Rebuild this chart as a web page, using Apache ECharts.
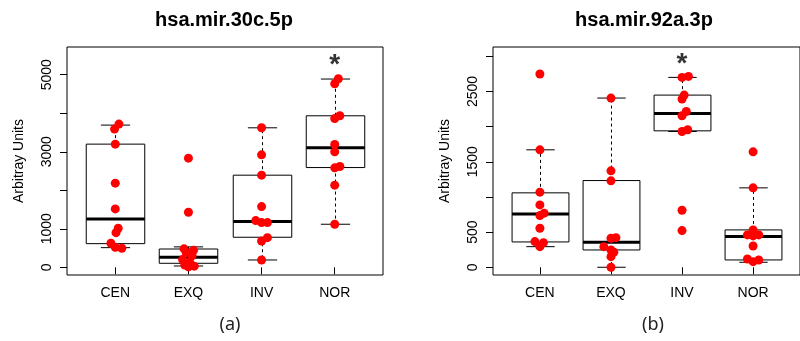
<!DOCTYPE html>
<html>
<head>
<meta charset="utf-8">
<script src="https://cdn.jsdelivr.net/npm/echarts@6/dist/echarts.min.js"></script>
<style>
  html, body { margin: 0; background: #fff; }
  #chart { width: 800px; height: 341px; }
</style>
</head>
<body>
<div id="chart"></div>
<script>
const categories = ['CEN', 'EXQ', 'INV', 'NOR'];

// panel (a) hsa.mir.30c.5p : [low whisker, Q1, median, Q3, high whisker]
const boxA = [
  [510, 614, 1256, 3198, 3692],
  [34, 104, 260, 475, 530],
  [190, 780, 1186, 2392, 3622],
  [1118, 2590, 3102, 3934, 4888]
];
const pointsA = [
  [3718, 3588, 3198, 2184, 1516, 1014, 900, 624, 520, 494],
  [2834, 1430, 480, 440, 380, 300, 200, 120, 60, 30, 10],
  [3622, 2920, 2392, 1576, 1212, 1160, 1160, 770, 684, 190],
  [4896, 4766, 3934, 3864, 3188, 2998, 2616, 2582, 2132, 1118]
];
const jitterA = [
  [0.05, -0.01, 0, 0, 0, 0.04, 0.01, -0.06, 0, 0.09],
  [0, 0, -0.06, 0.07, -0.03, 0.05, -0.08, 0.02, -0.05, 0.08, 0],
  [0, 0, 0, 0, -0.08, 0, 0.08, 0.08, 0, 0],
  [0.05, 0, 0.07, 0, 0, 0, 0.07, 0, 0, 0]
];
const starA = [4, 5250];

// panel (b) hsa.mir.92a.3p
const boxB = [
  [293, 360, 759, 1058, 1670],
  [0, 246, 356, 1233, 2406],
  [1931, 1940, 2187, 2448, 2700],
  [71, 104, 436, 531, 1129]
];
const pointsB = [
  [2748, 1670, 1068, 887, 769, 735, 555, 365, 350, 293],
  [2406, 1371, 1229, 421, 413, 293, 246, 213, 151, 0],
  [2714, 2700, 2448, 2392, 2215, 2154, 1955, 1931, 811, 521],
  [1641, 1129, 531, 460, 446, 460, 303, 118, 80, 104]
];
const jitterB = [
  [0, 0, 0, 0, 0.06, 0, 0, -0.07, 0.05, 0],
  [0, 0, 0, 0.07, 0, -0.1, 0, 0.04, 0, 0],
  [0.09, 0, 0.03, 0, 0.06, 0, 0.08, 0, 0, 0],
  [0, 0, 0, -0.08, 0, 0.08, 0, -0.08, 0, 0.08]
];
const starB = [3, 2880];

const ticksA = [0, 1000, 2000, 3000, 4000, 5000];
const labelsA = [0, 1000, 3000, 5000];
const ticksB = [0, 500, 1000, 1500, 2000, 2500, 3000];
const labelsB = [0, 500, 1500, 2500];

const FONT = "'Liberation Sans', Arial, sans-serif";

function renderBox(params, api) {
  const x = api.value(0);
  const lo = api.coord([x, api.value(1)]);
  const q1 = api.coord([x, api.value(2)]);
  const md = api.coord([x, api.value(3)]);
  const q3 = api.coord([x, api.value(4)]);
  const hi = api.coord([x, api.value(5)]);
  const bw = api.size([0.8, 0])[0];
  const cw = api.size([0.4, 0])[0];
  const cx = Math.round(lo[0]) + 0.5;
  const solid = { stroke: '#000', lineWidth: 1, fill: null };
  const dashed = { stroke: '#000', lineWidth: 1, lineDash: [3, 3], fill: null };
  return {
    type: 'group',
    children: [
      { type: 'line', shape: { x1: cx, y1: q3[1], x2: cx, y2: hi[1] }, style: dashed },
      { type: 'line', shape: { x1: cx, y1: q1[1], x2: cx, y2: lo[1] }, style: dashed },
      { type: 'line', shape: { x1: cx - cw / 2, y1: hi[1], x2: cx + cw / 2, y2: hi[1] }, style: solid },
      { type: 'line', shape: { x1: cx - cw / 2, y1: lo[1], x2: cx + cw / 2, y2: lo[1] }, style: solid },
      { type: 'rect', shape: { x: cx - bw / 2, y: q3[1], width: bw, height: q1[1] - q3[1] }, style: { fill: '#fff', stroke: '#000', lineWidth: 1 } },
      { type: 'line', shape: { x1: cx - bw / 2, y1: md[1], x2: cx + bw / 2, y2: md[1] }, style: { stroke: '#000', lineWidth: 3 } }
    ]
  };
}

function boxData(stats) {
  return stats.map((s, i) => [i + 1].concat(s));
}

function pointData(points, jitter) {
  const out = [];
  points.forEach((vals, i) => {
    vals.forEach((v, j) => out.push([i + 1 + jitter[i][j], v]));
  });
  return out;
}

function xAxisFor(idx) {
  return {
    type: 'value', gridIndex: idx, min: 0.34, max: 4.66,
    axisLine: { show: false },
    splitLine: { show: false },
    axisTick: { show: true, length: 7, customValues: [1, 2, 3, 4], lineStyle: { color: '#000' } },
    axisLabel: {
      customValues: [1, 2, 3, 4], margin: 11,
      formatter: v => categories[Math.round(v) - 1],
      color: '#000', fontSize: 14, fontFamily: FONT
    }
  };
}

function yAxisFor(idx, min, max, ticks, labels) {
  return {
    type: 'value', gridIndex: idx, min: min, max: max,
    name: 'Arbitray Units', nameLocation: 'middle', nameRotate: 90, nameGap: 41,
    nameTextStyle: { color: '#000', fontSize: 14, fontFamily: FONT },
    axisLine: { show: false },
    splitLine: { show: false },
    axisTick: { show: true, length: 7, customValues: ticks, lineStyle: { color: '#000' } },
    axisLabel: {
      customValues: labels, rotate: 90, margin: 13,
      formatter: v => String(v),
      color: '#000', fontSize: 14, fontFamily: FONT
    }
  };
}

function starSeries(idx, star) {
  return {
    type: 'scatter', xAxisIndex: idx, yAxisIndex: idx,
    data: [star], symbolSize: 0, silent: true,
    label: { show: true, position: 'inside', formatter: '*', color: '#000', fontSize: 28, fontWeight: 'bold', fontFamily: FONT }
  };
}

const chart = echarts.init(document.getElementById('chart'));
chart.setOption({
  backgroundColor: '#fff',
  animation: false,
  grid: [
    { left: 67, top: 47, width: 316, height: 228, show: true, borderColor: '#000', borderWidth: 1 },
    { left: 493, top: 47, width: 316, height: 228, show: true, borderColor: '#000', borderWidth: 1 }
  ],
  xAxis: [xAxisFor(0), xAxisFor(1)],
  yAxis: [
    yAxisFor(0, -200, 5720, ticksA, labelsA),
    yAxisFor(1, -110, 3132, ticksB, labelsB)
  ],
  graphic: [
    { type: 'text', x: 224, y: 20, style: { text: 'hsa.mir.30c.5p', font: 'bold 20px ' + FONT, fill: '#000', textAlign: 'center', textVerticalAlign: 'middle' } },
    { type: 'text', x: 644, y: 20, style: { text: 'hsa.mir.92a.3p', font: 'bold 20px ' + FONT, fill: '#000', textAlign: 'center', textVerticalAlign: 'middle' } },
    { type: 'text', x: 230, y: 325, style: { text: '(a)', font: "18px 'Noto Sans', sans-serif", fill: '#222', textAlign: 'center', textVerticalAlign: 'middle' } },
    { type: 'text', x: 653, y: 325, style: { text: '(b)', font: "18px 'Noto Sans', sans-serif", fill: '#222', textAlign: 'center', textVerticalAlign: 'middle' } }
  ],
  series: [
    { type: 'custom', xAxisIndex: 0, yAxisIndex: 0, renderItem: renderBox, data: boxData(boxA), encode: { x: 0, y: [1, 2, 3, 4, 5] }, silent: true },
    { type: 'custom', xAxisIndex: 1, yAxisIndex: 1, renderItem: renderBox, data: boxData(boxB), encode: { x: 0, y: [1, 2, 3, 4, 5] }, silent: true },
    { type: 'scatter', xAxisIndex: 0, yAxisIndex: 0, data: pointData(pointsA, jitterA), symbolSize: 9, itemStyle: { color: '#ff0000', opacity: 1 } },
    { type: 'scatter', xAxisIndex: 1, yAxisIndex: 1, data: pointData(pointsB, jitterB), symbolSize: 9, itemStyle: { color: '#ff0000', opacity: 1 } },
    starSeries(0, starA),
    starSeries(1, starB)
  ]
});
</script>
</body>
</html>
